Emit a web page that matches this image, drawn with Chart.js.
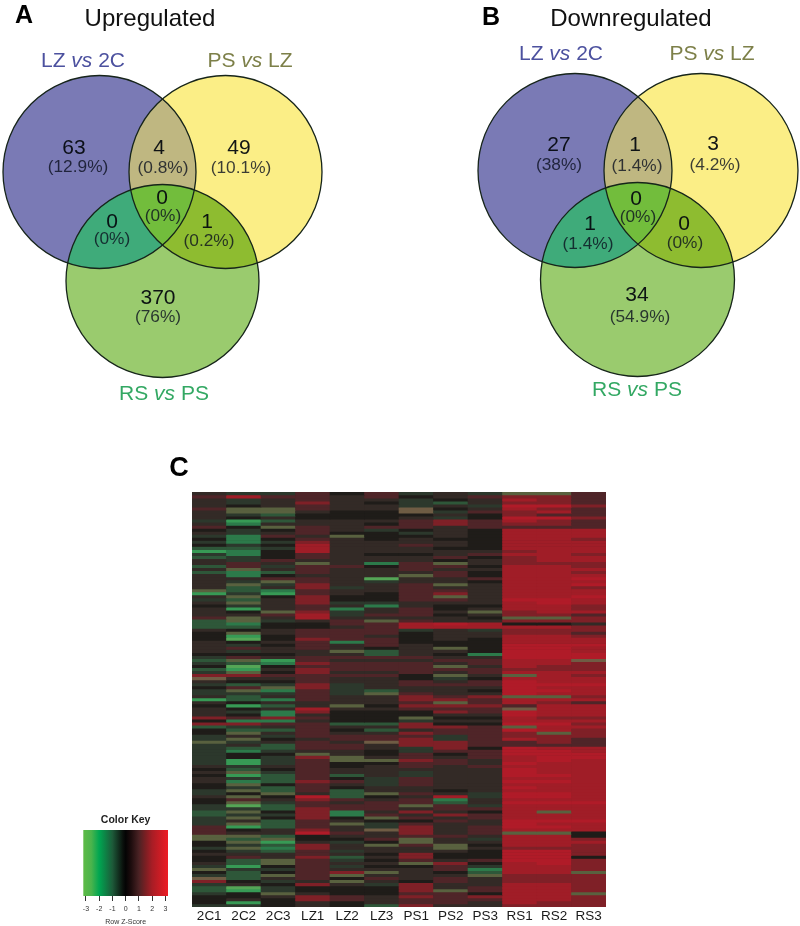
<!DOCTYPE html>
<html>
<head>
<meta charset="utf-8">
<title>Venn diagrams and heatmap</title>
<script src="https://cdn.jsdelivr.net/npm/chart.js@4"></script>
<style>
  html, body { margin: 0; background: #fff; }
  #page { position: relative; width: 800px; height: 926px; overflow: hidden; font-family: "Liberation Sans", Arial, sans-serif; }
  canvas { position: absolute; display: block; }
  #heat { filter: blur(0.6px); }
  .txt { position: absolute; transform: translate(-50%, -50%); white-space: nowrap; }
  .title { font-size: 24px; color: #111; }
  .panel { font-size: 25px; font-weight: bold; color: #000; }
  .set { font-size: 21px; }
</style>
</head>
<body>
<div id="page">
  <canvas id="vennUp" width="400" height="420" style="left:0;top:0"></canvas>
  <canvas id="vennDown" width="400" height="420" style="left:400px;top:0"></canvas>
  <canvas id="heat" width="414" height="434" style="left:192px;top:492px"></canvas>
  <canvas id="key" width="112" height="114" style="left:70px;top:812px"></canvas>

  <div class="txt panel" style="left:24px;top:14px">A</div>
  <div class="txt title" style="left:150px;top:18px">Upregulated</div>
  <div class="txt set" style="left:83px;top:60px;color:#4c519f">LZ <i>vs</i> 2C</div>
  <div class="txt set" style="left:250px;top:60px;color:#7d8049">PS <i>vs</i> LZ</div>
  <div class="txt set" style="left:164px;top:393px;color:#33a863">RS <i>vs</i> PS</div>

  <div class="txt panel" style="left:491px;top:16px">B</div>
  <div class="txt title" style="left:631px;top:18px">Downregulated</div>
  <div class="txt set" style="left:561px;top:53px;color:#4c519f">LZ <i>vs</i> 2C</div>
  <div class="txt set" style="left:712px;top:53px;color:#7d8049">PS <i>vs</i> LZ</div>
  <div class="txt set" style="left:637px;top:389px;color:#33a863">RS <i>vs</i> PS</div>

  <div class="txt panel" style="left:179px;top:467px;font-size:27px">C</div>
</div>

<script>
/* venn values, regions run: LZ, LZ+PS, PS, all three, LZ+RS, PS+RS, RS */
const upCounts = ["63", "4", "49", "0", "0", "1", "370"];
const upPercents = ["(12.9%)", "(0.8%)", "(10.1%)", "(0%)", "(0%)", "(0.2%)", "(76%)"];
const downCounts = ["27", "1", "3", "0", "1", "0", "34"];
const downPercents = ["(38%)", "(1.4%)", "(4.2%)", "(0%)", "(1.4%)", "(0%)", "(54.9%)"];

/* heatmap columns and rows, one char per cell (see CELL_COLORS) */
const heatColumns = ["2C1", "2C2", "2C3", "LZ1", "LZ2", "LZ3", "PS1", "PS2", "PS3", "RS1", "RS2", "RS3"];
const heatRows = [
  "644757464xx7", "797767567887", "646766456987", "646865436887", "656766464aa8", "7xx766t56987",
  "6xx655t47897", "643555565877", "656555645aa8", "413666787987", "626665787887", "75x767767777",
  "545764565999", "646755465999", "4276x5565999", "525765655998", "424866665999", "545966765999",
  "334966655999", "125966666899", "425765567998", "345766675899", "647666656899",
  "676x627x6888", "374775775998", "6x6766766999", "323766675998", "625666x75999", "66776066799a",
  "64x764665999", "6x48667x699a", "636846766998", "x32766776999", "141765786999", "6x58557x699a",
  "436855776aa9", "6x68446669a9", "546762655998", "616726756998", "65x84676x899", "667947756887",
  "7x6966665xx8", "3x467x766888", "3255779a9556", "335567999998",
  "656777464888", "5x6777566887", "515776566998", "505877565999", "656727555999", "645767655aaa",
  "6767656x5aa9", "6466x3665aa9", "555663652aaa", "476777766aaa", "3x176667799t", "432877767998",
  "5057777x6988", "316877777888", "4x5866767999", "8877775x6x98", "t66766545999", "655766767a99",
  "434846777aaa", "57x846666a99", "4x2743665aa9", "44474x766a99", "636766878xx8", "132766887999",
  "6566667x7987", "5136x5888799", "656966777t99", "642855587a99", "652655566a99", "878755x55988",
  "522655466999", "887733855aa8", "346766887x99", "533753677a98", "5x67668778x8", "464777747888",
  "4x5677847987", "x4676t887787", "463776887777", "433776485a99", "424665477aa9", "455x65757aaa",
  "4548x67679aa", "4147xx8769a9", "414755776a99", "646756767999", "535766666a99",
  "6x4766466a99", "513736466aa9", "643754766999", "623874766aa9", "5x5764766999", "543756666a99",
  "4x3736656999", "45x63x764aa9", "6x5a35694aa9", "576876726999", "5x4767736aaa", "403777x74999",
  "443877677999", "3x58268659x9", "344827687999", "4x585x767999", "463765576aaa", "4x37x4766a99",
  "713764867aa9", "75686t867999", "766a76867xx5", "xx3566776995", "x3x557x64998", "5x1645x66999",
  "54386x7x5998", "4x28666x6888", "543746665aa8", "666765855aa8", "576836855aa5", "53x745767aa8",
  "63x766x859a8", "415745574998", "x44766672998", "53578x65399x", "43x7x666x888", "t36757676888",
  "8546x6576888", "465864866998", "304555867998", "3145558x7998", "45x65577599x", "556876878998",
  "565876777998", "515656776988", "445653866888"
];

/* colour key */
const keyRange = [-3.2, 3.2];
const keyTicks = [-3, -2, -1, 0, 1, 2, 3];
const keyStops = [-3.2, -2.6, -2, -1, -0.2, 0, 0.4, 1, 1.5, 2, 3.2];

const KEY_COLORS = ["#5ebb47", "#4bb44c", "#00a651", "#1d5a39", "#0a100c", "#040404", "#1c0c0d", "#4a2224", "#7a1f23", "#a81d25", "#ed1c24"];
const CELL_COLORS = {
  "0": "#55a556", "1": "#379a55", "2": "#2c7a4a", "3": "#2e5739", "4": "#2c382c",
  "5": "#1f1c19", "6": "#332a26", "7": "#4f2528", "8": "#7f2027", "9": "#a01d27",
  "a": "#b01b28", "x": "#59613f", "t": "#6f5c44",
};
const FONT = "'Liberation Sans', Arial, sans-serif";

/* circle centres in panel units */
const VENN_UP = {
  circles: [
    { x: 99.5, y: 172, r: 96.5 },
    { x: 225.5, y: 172, r: 96.5 },
    { x: 162.5, y: 281, r: 96.5 },
  ],
  countAt: [[74, 148], [159, 148], [239, 148], [162, 198], [112, 222], [207, 222], [158, 298]],
  percentAt: [[78, 167], [163, 168], [241, 168], [163, 216], [112, 239], [209, 241], [158, 317]],
};
const VENN_DOWN = {
  circles: [
    { x: 175, y: 170.5, r: 97 },
    { x: 301, y: 170.5, r: 97 },
    { x: 237.5, y: 279.5, r: 97 },
  ],
  countAt: [[159, 145], [235, 145], [313, 144], [236, 199], [190, 224], [284, 224], [237, 295]],
  percentAt: [[159, 165], [237, 166], [315, 165], [238, 217], [188, 244], [285, 243], [240, 317]],
};
const VENN_FILLS = ["#7a7ab5", "#fbee86", "#9acb6e"];
const VENN_OVERLAPS = [
  { sets: [0, 1], color: "#bfb781" },
  { sets: [0, 2], color: "#3fab7a" },
  { sets: [1, 2], color: "#8ebc30" },
  { sets: [0, 1, 2], color: "#72bd3c" },
];

Chart.defaults.animation = false;
Chart.defaults.responsive = false;
Chart.defaults.events = [];
Chart.defaults.font.family = FONT;
Chart.defaults.plugins.legend.display = false;
Chart.defaults.plugins.tooltip.enabled = false;

// overlaps, outlines and region numbers sit on top of the three bubbles
const vennPlugin = {
  id: "vennPlugin",
  afterDatasetsDraw(chart, args, opts) {
    const { ctx, scales } = chart;
    const circles = chart.data.datasets.map((ds, i) => {
      const el = chart.getDatasetMeta(i).data[0];
      return { x: el.x, y: el.y, r: ds.data[0].r };
    });
    VENN_OVERLAPS.forEach((o) => {
      ctx.save();
      o.sets.forEach((i) => {
        ctx.beginPath();
        ctx.arc(circles[i].x, circles[i].y, circles[i].r, 0, Math.PI * 2);
        ctx.clip();
      });
      ctx.fillStyle = o.color;
      ctx.fillRect(0, 0, chart.width, chart.height);
      ctx.restore();
    });
    ctx.save();
    ctx.strokeStyle = "#16241a";
    ctx.lineWidth = 1.3;
    circles.forEach((c) => {
      ctx.beginPath();
      ctx.arc(c.x, c.y, c.r, 0, Math.PI * 2);
      ctx.stroke();
    });
    ctx.textAlign = "center";
    ctx.textBaseline = "middle";
    opts.counts.forEach((txt, i) => {
      ctx.font = "21px " + FONT;
      ctx.fillStyle = "rgba(5,10,15,.95)";
      ctx.fillText(txt, scales.x.getPixelForValue(opts.layout.countAt[i][0]), scales.y.getPixelForValue(opts.layout.countAt[i][1]));
      ctx.font = "17.3px " + FONT;
      ctx.fillStyle = "rgba(10,15,30,.8)";
      ctx.fillText(opts.percents[i], scales.x.getPixelForValue(opts.layout.percentAt[i][0]), scales.y.getPixelForValue(opts.layout.percentAt[i][1]));
    });
    ctx.restore();
  },
};

function makeVenn(canvasId, layout, counts, percents) {
  return new Chart(document.getElementById(canvasId), {
    type: "bubble",
    data: {
      datasets: layout.circles.map((c, i) => ({
        data: [c],
        backgroundColor: VENN_FILLS[i],
        borderWidth: 0,
        clip: false,
      })),
    },
    options: {
      layout: { padding: 0, autoPadding: false },
      scales: {
        x: { display: false, min: 0, max: 400 },
        y: { display: false, min: 0, max: 420, reverse: true },
      },
      plugins: { vennPlugin: { layout, counts, percents } },
    },
    plugins: [vennPlugin],
  });
}

// every row is one stacked dataset, one unit tall
function makeHeatmap() {
  return new Chart(document.getElementById("heat"), {
    type: "bar",
    data: {
      labels: heatColumns,
      datasets: heatRows.map((row) => ({
        data: heatColumns.map(() => 1),
        backgroundColor: row.split("").map((c) => CELL_COLORS[c]),
        borderWidth: 0,
        categoryPercentage: 1,
        barPercentage: 1,
      })),
    },
    options: {
      layout: { padding: 0 },
      scales: {
        x: {
          stacked: true,
          grid: { display: false, drawTicks: false },
          border: { display: false },
          afterFit: (s) => { s.height = 19; },
          ticks: { color: "#1a1a1a", font: { size: 13.5 }, padding: 1, maxRotation: 0, autoSkip: false },
        },
        y: { stacked: true, display: false, min: 0, max: heatRows.length, reverse: true },
      },
    },
    plugins: [{
      id: "heatUnder",
      beforeDatasetsDraw(chart) {
        const a = chart.chartArea;
        chart.ctx.fillStyle = "#2a2320";
        chart.ctx.fillRect(a.left, a.top, a.right - a.left, a.bottom - a.top);
      },
    }],
  });
}

function keyGradient(ctx) {
  const { chart } = ctx;
  if (!chart.chartArea) return KEY_COLORS[0];
  const x = chart.scales.x;
  const x0 = x.getPixelForValue(keyRange[0]);
  const x1 = x.getPixelForValue(keyRange[1]);
  const g = chart.ctx.createLinearGradient(x0, 0, x1, 0);
  keyStops.forEach((z, i) => g.addColorStop((z - keyRange[0]) / (keyRange[1] - keyRange[0]), KEY_COLORS[i]));
  return g;
}

function makeKey() {
  return new Chart(document.getElementById("key"), {
    type: "bar",
    data: {
      labels: ["z"],
      datasets: [{ data: [keyRange], backgroundColor: keyGradient, borderWidth: 0, categoryPercentage: 1, barPercentage: 1 }],
    },
    options: {
      indexAxis: "y",
      layout: { padding: { left: 13.3, right: 14 } },
      plugins: {
        title: {
          display: true,
          text: "Color Key",
          color: "#222",
          font: { size: 10.5, weight: "bold" },
          padding: { top: 2, bottom: 3.4 },
        },
      },
      scales: {
        x: {
          min: keyRange[0],
          max: keyRange[1],
          afterBuildTicks: (s) => { s.ticks = keyTicks.map((v) => ({ value: v })); },
          afterFit: (s) => { s.height = 30; },
          grid: { drawOnChartArea: false, tickLength: 5, tickColor: "#333" },
          border: { display: false },
          ticks: { color: "#333", font: { size: 7 }, padding: 4, maxRotation: 0 },
          title: { display: true, text: "Row Z-Score", color: "#333", font: { size: 7 }, padding: { top: 3, bottom: 0 } },
        },
        y: { display: false },
      },
    },
  });
}

makeVenn("vennUp", VENN_UP, upCounts, upPercents);
makeVenn("vennDown", VENN_DOWN, downCounts, downPercents);
makeHeatmap();
makeKey();
</script>
</body>
</html>
